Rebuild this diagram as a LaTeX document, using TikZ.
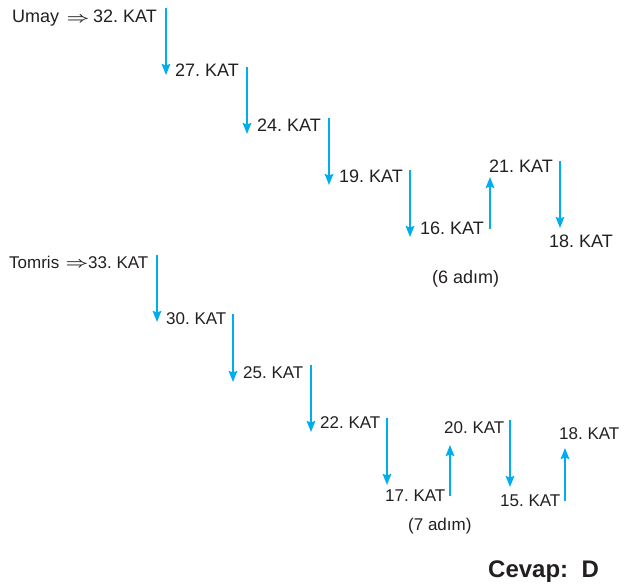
\documentclass[tikz,border=0pt]{standalone}
\usepackage{fontspec}
\setmainfont{Liberation Sans}
\usetikzlibrary{arrows.meta}
\definecolor{arrcyan}{RGB}{0,174,239}
\definecolor{txt}{RGB}{35,31,32}
\frenchspacing
\tikzset{
  lbl/.style={anchor=base west,inner sep=0pt,text=txt,font=\fontsize{18}{20}\selectfont\frenchspacing},
  lblb/.style={anchor=base west,inner sep=0pt,text=txt,font=\fontsize{17}{20}\selectfont\frenchspacing},
  ans/.style={anchor=base west,inner sep=0pt,text=txt,font=\fontsize{24}{26}\selectfont\bfseries},
  impl/.style={anchor=base west,inner sep=0pt,text=txt,font=\fontsize{18}{20}\selectfont},
  arr/.style={draw=arrcyan,line width=2pt,-{Stealth[length=11pt,width=8.5pt,inset=1.5pt]}}
}
\begin{document}
\begin{tikzpicture}[x=1pt,y=-1pt]
\useasboundingbox (0,0) rectangle (635,587);
% Umay
\node[lbl] (umay) at (12,22.7) {Umay};
\node[impl] (impl1) at (66.5,22.2) {\scalebox{1.15}[0.85]{\boldmath$\Rightarrow$}};
\node[lbl] (u32) at (93,22.7) {32. KAT};
\node[lbl] (u27) at (175,76.7) {27. KAT};
\node[lbl] (u24) at (257,131) {24. KAT};
\node[lbl] (u19) at (339,182) {19. KAT};
\node[lbl] (u16) at (420,234) {16. KAT};
\node[lbl] (u21) at (489,172) {21. KAT};
\node[lbl] (u18) at (549,247) {18. KAT};
\node[lbl] (u6) at (432,283) {(6 adım)};
% Tomris
\node[lblb] (tomris) at (9,268) {Tomris};
\node[impl] (impl2) at (65.5,267.5) {\scalebox{1.15}[0.85]{\boldmath$\Rightarrow$}};
\node[lblb] (t33) at (88,268) {33. KAT};
\node[lblb] (t30) at (166,324) {30. KAT};
\node[lblb] (t25) at (243,378) {25. KAT};
\node[lblb] (t22) at (320,428) {22. KAT};
\node[lblb] (t17) at (385,501) {17. KAT};
\node[lblb] (t20) at (444,433) {20. KAT};
\node[lblb] (t15) at (500,506) {15. KAT};
\node[lblb] (t18) at (559,439) {18. KAT};
\node[lblb] (t7) at (408,530) {(7 adım)};
\node[ans] (cevap) at (488,577) {Cevap:\ \ D};
% arrow end points
\coordinate (a1s) at (166,8);   \coordinate (a1e) at (166,75);
\coordinate (a2s) at (247,67);  \coordinate (a2e) at (247,134);
\coordinate (a3s) at (329,118); \coordinate (a3e) at (329,185);
\coordinate (a4s) at (410,170); \coordinate (a4e) at (410,237);
\coordinate (a5s) at (490,229); \coordinate (a5e) at (490,177);
\coordinate (a6s) at (560,161); \coordinate (a6e) at (560,228);
\coordinate (b1s) at (157,255); \coordinate (b1e) at (157,322);
\coordinate (b2s) at (233,314); \coordinate (b2e) at (233,382);
\coordinate (b3s) at (311,365); \coordinate (b3e) at (311,432);
\coordinate (b4s) at (387,418); \coordinate (b4e) at (387,485);
\coordinate (b5s) at (450,496); \coordinate (b5e) at (450,445);
\coordinate (b6s) at (510,420); \coordinate (b6e) at (510,487);
\coordinate (b7s) at (565,501); \coordinate (b7e) at (565,448);
\foreach \p in {a1,a2,a3,a4,a5,a6,b1,b2,b3,b4,b5,b6,b7}
  \draw[arr] (\p s) -- (\p e);
\end{tikzpicture}
\end{document}
